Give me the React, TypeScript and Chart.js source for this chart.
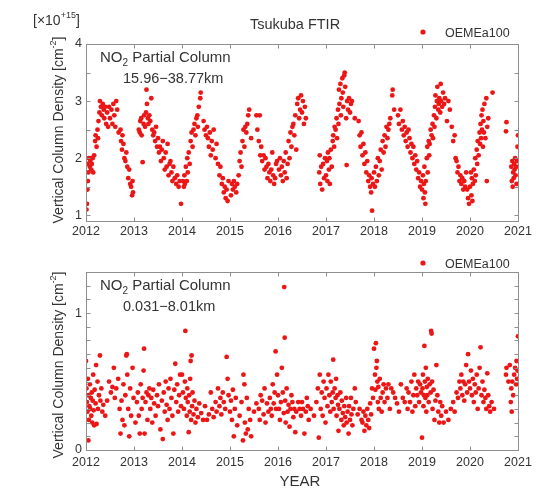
import React, { useEffect, useRef } from "react";
import { Chart, registerables } from "chart.js";

Chart.register(...registerables);

const FONT = '"Liberation Sans", Arial, Helvetica, sans-serif';
const TEXT = "#333333";
const FRAME = "#8f8f8f";
const DOT = "rgb(236, 22, 22)";

const yearTicks = [2012, 2013, 2014, 2015, 2016, 2017, 2018, 2019, 2020, 2021];
const upperYTicks = [1, 1.5, 2, 2.5, 3, 3.5, 4];
const lowerYTicks = [0, 0.1, 0.2, 0.3, 0.4, 0.5, 0.6, 0.7, 0.8, 0.9, 1, 1.1, 1.2, 1.3];
const seriesName = "OEMEa100";

// Upper panel: NO2 partial column 15.96-38.77 km, [x 1e15 cm^-2]; [offset within year, value]
const upper2012: [number, number][] = [[0.01,1.1],[0.02,1.2],[0.03,1.45],[0.04,1.6],[0.05,1.75],[0.03,1.9],[0.06,2.0],[0.08,1.85],[0.09,1.95],[0.1,2.0],[0.11,1.8],[0.12,1.9],[0.14,2.0],[0.15,1.75],[0.17,2.05],[0.19,2.3],[0.2,2.4],[0.22,2.2],[0.24,2.5],[0.25,2.35],[0.26,2.65],[0.28,2.8],[0.29,3.0],[0.31,2.9],[0.33,2.75],[0.35,2.95],[0.37,2.85],[0.38,2.7],[0.4,2.9],[0.42,2.6],[0.44,2.8],[0.46,2.55],[0.48,2.9],[0.5,2.7],[0.53,2.85],[0.55,2.6],[0.57,2.95],[0.59,2.75],[0.61,2.55],[0.63,3.0],[0.65,2.85],[0.68,2.45],[0.72,2.5],[0.73,2.3],[0.75,2.15],[0.76,2.4],[0.78,2.25],[0.8,2.0],[0.82,1.95],[0.84,2.1],[0.86,1.85],[0.88,1.65],[0.9,1.8],[0.92,1.55],[0.94,1.5],[0.96,1.35],[0.97,1.6],[0.98,1.4]];
const upper2013: [number, number][] = [[0.1,2.5],[0.12,2.45],[0.13,2.65],[0.15,2.7],[0.16,2.4],[0.18,1.93],[0.2,2.6],[0.21,2.75],[0.23,2.55],[0.25,2.8],[0.26,3.2],[0.27,2.95],[0.29,2.7],[0.3,2.6],[0.32,2.75],[0.34,2.65],[0.36,3.05],[0.38,2.5],[0.4,2.4],[0.42,2.45],[0.44,2.3],[0.46,2.55],[0.48,2.2],[0.5,2.35],[0.52,2.1],[0.54,2.2],[0.56,1.95],[0.58,2.15],[0.6,2.3],[0.62,2.0],[0.64,1.8],[0.66,2.1],[0.68,1.85],[0.7,2.25],[0.72,1.7],[0.74,1.9],[0.76,1.95],[0.78,1.75],[0.8,1.6],[0.82,1.85],[0.85,1.65],[0.88,1.55],[0.9,1.7],[0.93,1.5],[0.95,1.6],[0.98,1.2]];
const upper2014: [number, number][] = [[0.02,1.6],[0.04,1.5],[0.05,1.7],[0.06,1.55],[0.08,1.85],[0.1,1.6],[0.11,2.0],[0.12,1.75],[0.14,2.1],[0.16,1.9],[0.18,2.3],[0.2,2.45],[0.22,2.2],[0.24,2.5],[0.26,2.6],[0.28,2.4],[0.3,2.7],[0.32,2.75],[0.33,2.55],[0.35,2.9],[0.38,3.05],[0.39,3.15],[0.45,2.65],[0.47,2.5],[0.5,2.4],[0.52,2.55],[0.54,2.35],[0.56,2.2],[0.58,2.45],[0.6,2.05],[0.62,2.3],[0.64,2.15],[0.66,2.5],[0.7,2.0],[0.72,2.25],[0.75,1.9],[0.78,1.7],[0.8,1.85],[0.83,1.55],[0.85,1.65],[0.87,1.4],[0.89,1.5],[0.91,1.3],[0.93,1.45],[0.95,1.25],[0.97,1.6]];
const upper2015: [number, number][] = [[0.02,1.35],[0.04,1.55],[0.06,1.45],[0.08,1.6],[0.1,1.5],[0.13,1.4],[0.15,1.55],[0.18,1.7],[0.2,1.95],[0.22,2.1],[0.24,1.85],[0.26,2.3],[0.28,2.5],[0.3,2.2],[0.32,2.55],[0.34,2.45],[0.36,2.6],[0.38,2.75],[0.4,2.85],[0.44,2.35],[0.55,2.75],[0.57,2.5],[0.6,2.3],[0.62,2.75],[0.63,2.05],[0.65,2.2],[0.67,1.95],[0.7,2.05],[0.72,1.8],[0.74,2.0],[0.76,1.85],[0.78,1.65],[0.8,1.9],[0.82,1.75],[0.84,1.6],[0.86,1.8],[0.88,2.1],[0.9,1.7],[0.92,1.55],[0.94,1.65],[0.96,1.9],[0.98,1.95]];
const upper2016: [number, number][] = [[0.02,1.8],[0.04,2.0],[0.06,1.7],[0.08,1.85],[0.1,1.6],[0.12,1.95],[0.14,1.75],[0.16,2.1],[0.18,1.65],[0.2,1.9],[0.22,2.3],[0.24,2.0],[0.26,2.45],[0.28,2.2],[0.3,2.55],[0.32,2.6],[0.34,2.4],[0.36,2.75],[0.38,2.15],[0.4,2.95],[0.42,3.05],[0.44,2.7],[0.46,2.85],[0.48,3.1],[0.5,2.8],[0.52,3.0],[0.54,2.6],[0.56,2.9],[0.58,2.7],[0.86,1.75],[0.87,2.05],[0.88,1.55],[0.9,1.85],[0.92,1.45],[0.94,1.9],[0.96,1.65],[0.98,2.0]];
const upper2017: [number, number][] = [[0.0,1.7],[0.02,1.95],[0.03,1.6],[0.04,2.1],[0.06,1.8],[0.07,2.0],[0.08,1.55],[0.1,2.15],[0.12,1.85],[0.14,2.3],[0.15,2.4],[0.17,2.2],[0.18,2.55],[0.2,2.5],[0.22,2.7],[0.23,2.35],[0.25,2.85],[0.26,2.6],[0.27,3.2],[0.28,2.95],[0.3,3.3],[0.31,2.75],[0.32,3.05],[0.34,3.4],[0.35,3.15],[0.36,2.9],[0.38,3.45],[0.39,3.5],[0.4,3.25],[0.42,2.7],[0.43,1.88],[0.44,3.0],[0.46,2.85],[0.48,3.05],[0.5,2.8],[0.52,2.95],[0.54,3.0],[0.6,2.7],[0.68,2.65],[0.7,2.4],[0.72,2.2],[0.74,2.45],[0.76,2.05],[0.78,2.25],[0.8,1.9],[0.82,2.1],[0.84,1.75],[0.86,1.95],[0.88,1.6],[0.9,1.7],[0.92,1.5],[0.94,1.4],[0.95,1.65],[0.96,1.08],[0.98,1.55]];
const upper2018: [number, number][] = [[0.0,1.75],[0.02,1.5],[0.04,1.85],[0.06,1.6],[0.08,2.0],[0.1,1.7],[0.12,1.95],[0.14,2.15],[0.16,1.8],[0.18,2.3],[0.2,2.1],[0.22,2.4],[0.24,2.2],[0.26,2.55],[0.28,2.35],[0.3,2.5],[0.32,2.6],[0.34,2.7],[0.38,3.1],[0.39,3.2],[0.42,2.85],[0.5,2.75],[0.52,2.6],[0.55,2.85],[0.58,2.5],[0.6,2.65],[0.62,2.4],[0.64,2.55],[0.66,2.3],[0.68,2.45],[0.7,2.2],[0.72,2.5],[0.74,2.35],[0.76,2.1],[0.78,2.25],[0.8,2.0],[0.82,2.2],[0.84,1.9],[0.86,2.05],[0.88,1.8],[0.9,1.95],[0.92,1.65],[0.94,1.75],[0.96,1.5],[0.98,1.6]];
const upper2019: [number, number][] = [[0.0,1.45],[0.02,1.7],[0.03,1.3],[0.04,1.55],[0.05,1.85],[0.06,1.4],[0.07,1.2],[0.08,1.6],[0.1,2.0],[0.11,2.2],[0.12,1.75],[0.14,2.3],[0.15,2.05],[0.16,2.25],[0.18,2.5],[0.2,2.4],[0.22,2.6],[0.23,2.35],[0.25,2.75],[0.26,2.55],[0.27,2.9],[0.28,3.1],[0.3,2.7],[0.31,3.0],[0.32,3.25],[0.34,2.85],[0.35,2.95],[0.36,3.05],[0.38,2.8],[0.39,3.3],[0.4,3.0],[0.42,2.9],[0.44,3.15],[0.46,2.95],[0.48,3.05],[0.52,2.65],[0.55,3.0],[0.58,2.85],[0.62,2.55],[0.65,2.3],[0.68,2.4],[0.7,2.0],[0.72,1.95],[0.74,1.75],[0.76,1.85],[0.78,1.6],[0.8,1.7],[0.82,1.55],[0.84,1.65],[0.86,1.45],[0.88,1.6],[0.9,1.5],[0.92,1.75],[0.94,1.45],[0.96,1.3],[0.98,1.2]];
const upper2020: [number, number][] = [[0.0,1.5],[0.02,1.75],[0.03,1.35],[0.04,1.65],[0.05,1.25],[0.06,1.55],[0.08,1.8],[0.1,1.6],[0.11,2.0],[0.12,1.7],[0.14,2.15],[0.15,1.9],[0.16,2.3],[0.18,2.05],[0.2,2.45],[0.21,2.25],[0.22,2.6],[0.23,2.35],[0.24,2.75],[0.25,2.5],[0.26,2.85],[0.27,2.2],[0.28,2.65],[0.29,2.45],[0.3,2.95],[0.32,2.35],[0.34,3.05],[0.35,1.6],[0.36,2.55],[0.38,2.7],[0.47,3.15],[0.75,2.47],[0.76,2.63],[0.86,1.85],[0.87,1.6],[0.88,1.95],[0.89,1.5],[0.9,1.75],[0.91,1.65],[0.92,1.9],[0.93,1.8],[0.94,2.0],[0.95,1.7],[0.96,1.85],[0.97,1.55],[0.98,1.95],[0.99,2.2],[1.0,2.4]];

// Lower panel: NO2 partial column 0.031-8.01 km, [x 1e16 cm^-2]
const lower2012: [number, number][] = [[0.0,0.65],[0.01,0.45],[0.02,0.35],[0.03,0.28],[0.04,0.52],[0.05,0.07],[0.05,0.4],[0.06,0.22],[0.07,0.32],[0.08,0.48],[0.09,0.3],[0.1,0.38],[0.11,0.25],[0.12,0.42],[0.13,0.2],[0.14,0.36],[0.15,0.55],[0.16,0.29],[0.17,0.18],[0.18,0.44],[0.2,0.34],[0.21,0.62],[0.22,0.19],[0.24,0.5],[0.25,0.3],[0.27,0.4],[0.29,0.69],[0.3,0.36],[0.32,0.45],[0.34,0.28],[0.36,0.33],[0.4,0.25],[0.44,0.36],[0.48,0.5],[0.52,0.42],[0.55,0.46],[0.58,0.6],[0.6,0.38],[0.63,0.45],[0.67,0.52],[0.7,0.3],[0.72,0.12],[0.74,0.36],[0.76,0.22],[0.78,0.48],[0.8,0.18],[0.82,0.4],[0.84,0.69],[0.85,0.7],[0.86,0.55],[0.88,0.3],[0.9,0.1],[0.92,0.45],[0.94,0.25],[0.97,0.6],[0.99,0.38]];
const lower2013: [number, number][] = [[0.03,0.2],[0.06,0.35],[0.08,0.42],[0.1,0.25],[0.12,0.12],[0.14,0.48],[0.16,0.3],[0.18,0.38],[0.2,0.58],[0.21,0.74],[0.22,0.12],[0.24,0.35],[0.26,0.42],[0.28,0.22],[0.3,0.4],[0.32,0.45],[0.34,0.3],[0.36,0.38],[0.38,0.2],[0.4,0.44],[0.42,0.34],[0.45,0.25],[0.48,0.4],[0.5,0.32],[0.52,0.48],[0.55,0.15],[0.58,0.36],[0.6,0.08],[0.62,0.42],[0.64,0.28],[0.66,0.5],[0.68,0.33],[0.7,0.22],[0.72,0.45],[0.74,0.3],[0.76,0.52],[0.78,0.38],[0.8,0.25],[0.82,0.12],[0.84,0.44],[0.86,0.63],[0.88,0.35],[0.9,0.48],[0.92,0.28],[0.94,0.4],[0.96,0.55],[0.98,0.32]];
const lower2014: [number, number][] = [[0.0,0.55],[0.02,0.42],[0.04,0.3],[0.06,0.5],[0.07,0.87],[0.08,0.38],[0.1,0.25],[0.11,0.45],[0.12,0.35],[0.14,0.13],[0.15,0.4],[0.16,0.28],[0.17,0.52],[0.18,0.65],[0.19,0.22],[0.2,0.69],[0.21,0.32],[0.22,0.42],[0.24,0.26],[0.26,0.36],[0.28,0.2],[0.3,0.3],[0.33,0.24],[0.36,0.34],[0.4,0.27],[0.44,0.22],[0.48,0.32],[0.52,0.22],[0.56,0.26],[0.6,0.42],[0.63,0.3],[0.66,0.24],[0.7,0.35],[0.72,0.28],[0.75,0.45],[0.78,0.32],[0.8,0.38],[0.82,0.26],[0.85,0.42],[0.87,0.35],[0.9,0.3],[0.93,0.68],[0.95,0.52],[0.97,0.4]];
const lower2015: [number, number][] = [[0.0,0.28],[0.02,0.36],[0.04,0.22],[0.06,0.44],[0.08,0.1],[0.1,0.3],[0.12,0.38],[0.15,0.18],[0.2,0.25],[0.24,0.35],[0.27,0.07],[0.28,0.55],[0.3,0.48],[0.31,0.2],[0.33,0.12],[0.35,0.38],[0.37,0.15],[0.39,0.3],[0.42,0.22],[0.44,0.1],[0.5,0.28],[0.55,0.34],[0.6,0.3],[0.62,0.22],[0.64,0.4],[0.67,0.36],[0.7,0.26],[0.72,0.45],[0.74,0.2],[0.77,0.34],[0.8,0.28],[0.83,0.38],[0.85,0.3],[0.87,0.25],[0.89,0.48],[0.91,0.34],[0.93,0.42],[0.95,0.72],[0.96,0.3],[0.98,0.55]];
const lower2016: [number, number][] = [[0.0,0.4],[0.02,0.3],[0.04,0.22],[0.06,0.35],[0.08,0.6],[0.1,0.42],[0.12,0.27],[0.13,1.19],[0.14,0.82],[0.15,0.36],[0.16,0.2],[0.18,0.45],[0.2,0.28],[0.22,0.33],[0.24,0.17],[0.26,0.3],[0.28,0.4],[0.3,0.35],[0.32,0.24],[0.34,0.3],[0.36,0.13],[0.38,0.28],[0.42,0.35],[0.45,0.3],[0.48,0.25],[0.5,0.35],[0.52,0.3],[0.55,0.12],[0.58,0.28],[0.6,0.38],[0.62,0.32],[0.64,0.22],[0.68,0.3],[0.75,0.25],[0.8,0.35],[0.83,0.45],[0.85,0.09],[0.87,0.55],[0.89,0.3],[0.91,0.42],[0.93,0.25],[0.95,0.5],[0.97,0.38],[0.99,0.2]];
const lower2017: [number, number][] = [[0.01,0.45],[0.03,0.32],[0.05,0.55],[0.07,0.4],[0.09,0.28],[0.1,0.5],[0.12,0.35],[0.14,0.42],[0.15,0.66],[0.16,0.3],[0.18,0.45],[0.2,0.38],[0.21,0.52],[0.22,0.25],[0.24,0.4],[0.25,0.33],[0.26,0.14],[0.28,0.3],[0.3,0.42],[0.32,0.22],[0.33,0.36],[0.35,0.27],[0.37,0.18],[0.38,0.32],[0.4,0.24],[0.42,0.38],[0.43,0.2],[0.45,0.28],[0.47,0.12],[0.48,0.32],[0.5,0.22],[0.52,0.38],[0.53,0.26],[0.55,0.18],[0.57,0.3],[0.6,0.45],[0.62,0.35],[0.66,0.26],[0.7,0.3],[0.74,0.22],[0.76,0.2],[0.78,0.28],[0.8,0.14],[0.82,0.25],[0.84,0.18],[0.86,0.3],[0.88,0.22],[0.9,0.16],[0.92,0.34],[0.94,0.26],[0.96,0.45],[0.98,0.38]];
const lower2018: [number, number][] = [[0.0,0.74],[0.02,0.55],[0.03,0.44],[0.04,0.78],[0.05,0.6],[0.06,0.65],[0.07,0.5],[0.08,0.35],[0.09,0.46],[0.1,0.3],[0.12,0.52],[0.14,0.38],[0.16,0.28],[0.18,0.42],[0.2,0.48],[0.22,0.35],[0.25,0.45],[0.28,0.38],[0.3,0.48],[0.33,0.3],[0.36,0.45],[0.4,0.42],[0.44,0.38],[0.48,0.34],[0.52,0.28],[0.56,0.48],[0.6,0.38],[0.64,0.35],[0.68,0.45],[0.7,0.3],[0.72,0.42],[0.75,0.35],[0.78,0.5],[0.8,0.28],[0.82,0.4],[0.84,0.55],[0.86,0.32],[0.88,0.45],[0.9,0.4],[0.92,0.5],[0.94,0.35],[0.96,0.48],[0.98,0.42]];
const lower2019: [number, number][] = [[0.0,0.09],[0.01,0.45],[0.02,0.55],[0.03,0.32],[0.04,0.4],[0.05,0.76],[0.06,0.5],[0.07,0.38],[0.08,0.6],[0.09,0.28],[0.1,0.46],[0.11,0.4],[0.12,0.52],[0.14,0.35],[0.16,0.48],[0.18,0.42],[0.19,0.87],[0.2,0.85],[0.21,0.5],[0.22,0.3],[0.24,0.44],[0.26,0.22],[0.28,0.36],[0.3,0.62],[0.32,0.4],[0.34,0.28],[0.36,0.2],[0.38,0.35],[0.4,0.25],[0.42,0.32],[0.45,0.2],[0.5,0.28],[0.55,0.22],[0.6,0.3],[0.65,0.35],[0.68,0.28],[0.72,0.42],[0.75,0.38],[0.78,0.5],[0.8,0.45],[0.82,0.55],[0.84,0.4],[0.86,0.5],[0.88,0.36],[0.9,0.48],[0.92,0.62],[0.94,0.42],[0.96,0.7],[0.98,0.5]];
const lower2020: [number, number][] = [[0.0,0.45],[0.02,0.58],[0.04,0.4],[0.06,0.52],[0.08,0.35],[0.1,0.48],[0.12,0.42],[0.14,0.55],[0.16,0.3],[0.18,0.45],[0.2,0.6],[0.22,0.75],[0.24,0.4],[0.26,0.5],[0.28,0.35],[0.3,0.44],[0.32,0.38],[0.34,0.3],[0.36,0.56],[0.38,0.4],[0.4,0.32],[0.42,0.28],[0.45,0.35],[0.5,0.3],[0.75,0.55],[0.76,0.6],[0.8,0.5],[0.83,0.62],[0.85,0.35],[0.86,0.45],[0.87,0.28],[0.88,0.5],[0.9,0.4],[0.92,0.55],[0.94,0.6],[0.96,0.48],[0.97,0.65],[0.98,0.52],[0.99,0.58],[1.0,0.83]];

const upperByYear: [number, [number, number][]][] = [
  [2012, upper2012], [2013, upper2013], [2014, upper2014], [2015, upper2015], [2016, upper2016],
  [2017, upper2017], [2018, upper2018], [2019, upper2019], [2020, upper2020],
];
const lowerByYear: [number, [number, number][]][] = [
  [2012, lower2012], [2013, lower2013], [2014, lower2014], [2015, lower2015], [2016, lower2016],
  [2017, lower2017], [2018, lower2018], [2019, lower2019], [2020, lower2020],
];

function toPoints(groups: [number, [number, number][]][]) {
  const out: { x: number; y: number }[] = [];
  for (const [year, rows] of groups) for (const [dx, v] of rows) out.push({ x: year + dx, y: v });
  return out;
}

type Part = { t: string; size: number; dy?: number };

function drawRich(ctx: CanvasRenderingContext2D, parts: Part[], x: number, y: number, align: "left" | "center") {
  let w = 0;
  for (const p of parts) {
    ctx.font = `${p.size}px ${FONT}`;
    w += ctx.measureText(p.t).width;
  }
  let cx = align === "center" ? x - w / 2 : x;
  ctx.textAlign = "left";
  ctx.textBaseline = "alphabetic";
  for (const p of parts) {
    ctx.font = `${p.size}px ${FONT}`;
    ctx.fillText(p.t, cx, y + (p.dy || 0));
    cx += ctx.measureText(p.t).width;
  }
}

type Spec = {
  title?: string;
  exponent: string;
  range: string;
  topOffset: number; // absolute page y of the canvas top
  xLabel?: string;
  yTitleCenter: number;
};

function makeDecor(spec: Spec) {
  const o = spec.topOffset;
  return {
    id: "decor",
    afterDraw(chart: any) {
      const { ctx, chartArea: a, scales } = chart;
      ctx.save();
      ctx.strokeStyle = FRAME;
      ctx.lineWidth = 1;
      const L = Math.round(a.left) + 0.5, R = Math.round(a.right) + 0.5;
      const T = Math.round(a.top) + 0.5, B = Math.round(a.bottom) + 0.5;
      ctx.strokeRect(L, T, R - L, B - T);
      ctx.beginPath();
      for (const t of scales.x.ticks) {
        const px = Math.round(scales.x.getPixelForValue(t.value)) + 0.5;
        ctx.moveTo(px, B); ctx.lineTo(px, B - 4);
        ctx.moveTo(px, T); ctx.lineTo(px, T + 4);
      }
      for (const t of scales.y.ticks) {
        const py = Math.round(scales.y.getPixelForValue(t.value)) + 0.5;
        ctx.moveTo(L, py); ctx.lineTo(L + 4, py);
        ctx.moveTo(R, py); ctx.lineTo(R - 4, py);
      }
      ctx.stroke();

      ctx.fillStyle = TEXT;
      if (spec.title) drawRich(ctx, [{ t: spec.title, size: 14.5 }], 295, 29 - o, "center");
      drawRich(ctx, [
        { t: "[\u00d710", size: 14 },
        { t: spec.exponent, size: 9, dy: -7 },
        { t: "]", size: 14 },
      ], 33, 25 - o + (o ? 230 : 0) * 0, "left");
      // legend
      const ly = o ? 263 - o : 32;
      ctx.fillStyle = DOT;
      ctx.beginPath();
      ctx.arc(423, ly, 2.6, 0, Math.PI * 2);
      ctx.fill();
      ctx.fillStyle = TEXT;
      drawRich(ctx, [{ t: seriesName, size: 12.5 }], 445, ly + 4.5, "left");
      // in-plot annotation
      const ny = a.top + 18;
      drawRich(ctx, [
        { t: "NO", size: 15 },
        { t: "2", size: 10, dy: 4 },
        { t: " Partial Column", size: 15 },
      ], 100, ny, "left");
      drawRich(ctx, [{ t: spec.range, size: 14.5 }], 123, ny + 21, "left");
      // y-axis title
      ctx.save();
      ctx.translate(58, spec.yTitleCenter - o);
      ctx.rotate(-Math.PI / 2);
      drawRich(ctx, [
        { t: "Vertical Column Density [cm", size: 14 },
        { t: "-2", size: 9, dy: -7 },
        { t: "]", size: 14 },
      ], 0, 5, "center");
      ctx.restore();
      if (spec.xLabel) drawRich(ctx, [{ t: spec.xLabel, size: 15 }], 300, 486 - o, "center");
      ctx.restore();
    },
  };
}

function makeConfig(points: { x: number; y: number }[], yMin: number, yMax: number, yTicks: number[], labelled: number[], pad: { top: number; bottom: number }, xPad: number, spec: Spec): any {
  return {
    type: "scatter",
    data: {
      datasets: [{
        label: seriesName,
        data: points,
        pointRadius: 2.4,
        pointHoverRadius: 2.4,
        pointBorderWidth: 0,
        pointBackgroundColor: DOT,
        backgroundColor: DOT,
        borderColor: DOT,
      }],
    },
    options: {
      responsive: false,
      animation: false,
      events: [],
      layout: { padding: { left: 0, right: 35, top: pad.top, bottom: 0 } },
      plugins: { legend: { display: false }, title: { display: false }, tooltip: { enabled: false } },
      scales: {
        x: {
          type: "linear",
          min: 2012,
          max: 2021,
          grid: { display: false, drawTicks: false },
          border: { display: false },
          afterBuildTicks: (s: any) => { s.ticks = yearTicks.map((value) => ({ value })); },
          afterFit: (s: any) => { s.height = pad.bottom; },
          ticks: {
            autoSkip: false,
            maxRotation: 0,
            padding: xPad,
            color: TEXT,
            font: { family: FONT, size: 12.5 },
            callback: (v: number) => String(v),
          },
        },
        y: {
          type: "linear",
          min: yMin,
          max: yMax,
          grid: { display: false, drawTicks: false },
          border: { display: false },
          afterBuildTicks: (s: any) => { s.ticks = yTicks.map((value) => ({ value })); },
          afterFit: (s: any) => { s.width = 86; },
          ticks: {
            autoSkip: false,
            padding: 4,
            color: TEXT,
            font: { family: FONT, size: 12.5 },
            callback: (v: number) => (labelled.some((l) => Math.abs(l - v) < 1e-9) ? String(v) : ""),
          },
        },
      },
    },
    plugins: [makeDecor(spec)],
  };
}

export default function App() {
  const topRef = useRef<HTMLCanvasElement>(null);
  const botRef = useRef<HTMLCanvasElement>(null);

  useEffect(() => {
    const top = new Chart(topRef.current!, makeConfig(
      toPoints(upperByYear), 0.9, 4, upperYTicks, [1, 2, 3, 4],
      { top: 44, bottom: 240 - 221 }, 3,
      { title: "Tsukuba FTIR", exponent: "+15", range: "15.96\u221238.77km", topOffset: 0, yTitleCenter: 130 },
    ));
    const bottom = new Chart(botRef.current!, makeConfig(
      toPoints(lowerByYear), 0, 1.3, lowerYTicks, [0, 1],
      { top: 272 - 236, bottom: 254 - 214 }, 5,
      { exponent: "+16", range: "0.031\u22128.01km", topOffset: 236, xLabel: "YEAR", yTitleCenter: 365 },
    ));
    return () => { top.destroy(); bottom.destroy(); };
  }, []);

  return (
    <div style={{ position: "absolute", left: 0, top: 0, width: 553, height: 490, background: "#fff" }}>
      <canvas ref={topRef} width={553} height={240} style={{ position: "absolute", left: 0, top: 0, width: 553, height: 240 }} />
      <canvas ref={botRef} width={553} height={254} style={{ position: "absolute", left: 0, top: 236, width: 553, height: 254 }} />
    </div>
  );
}
